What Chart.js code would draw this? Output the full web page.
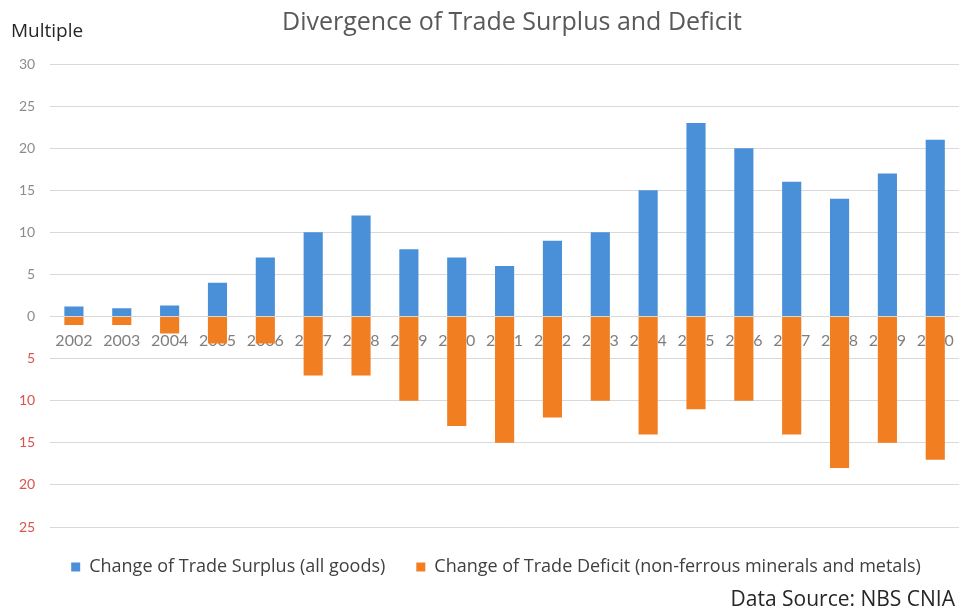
<!DOCTYPE html>
<html>
<head>
<meta charset="utf-8">
<script src="https://cdn.jsdelivr.net/npm/chart.js@4.4.1/dist/chart.umd.min.js"></script>
<style>
  html, body { margin: 0; padding: 0; background: #fff; }
  #wrap { width: 969px; height: 612px; }
</style>
</head>
<body>
<div id="wrap"><canvas id="myChart0"></canvas></div>
<script>
const years = ['2002', '2003', '2004', '2005', '2006', '2007', '2008', '2009', '2010', '2011',
               '2012', '2013', '2014', '2015', '2016', '2017', '2018', '2019', '2020'];
const surplus = [1.2, 1, 1.3, 4, 7, 10, 12, 8, 7, 6, 9, 10, 15, 23, 20, 16, 14, 17, 21];
const deficit = [-1, -1, -2, -3.2, -3.2, -7, -7, -10, -13, -15, -12, -10, -14, -11, -10, -14, -18, -15, -17];
const legendLabels = ['Change of Trade Surplus (all goods)', 'Change of Trade Deficit (non-ferrous minerals and metals)'];
const yTicks = [30, 25, 20, 15, 10, 5, 0, -5, -10, -15, -20, -25];

const FONT = '"Open Sans", sans-serif';

// title, axis caption and source note drawn straight onto the canvas
const textPlugin = {
    id: 'extraText',
    afterDraw(chart) {
        const c = chart.ctx;
        c.save();
        c.textBaseline = 'middle';
        c.fillStyle = '#595959';
        c.font = '25px ' + FONT;
        c.textAlign = 'center';
        c.fillText('Divergence of Trade Surplus and Deficit', 512, 23);
        c.fillStyle = '#262626';
        c.font = '19px ' + FONT;
        c.textAlign = 'left';
        c.fillText('Multiple', 11, 32);
        c.font = '21px ' + FONT;
        c.textAlign = 'right';
        c.fillText('Data Source: NBS CNIA', 955, 600);
        c.restore();
    }
};

const ctx = document.getElementById('myChart0').getContext('2d');
new Chart(ctx, {
    type: 'bar',
    data: {
        labels: years,
        datasets: [
            { label: legendLabels[0], data: surplus, backgroundColor: '#4a90d9' },
            { label: legendLabels[1], data: deficit, backgroundColor: '#f27e22' },
        ]
    },
    options: {
        responsive: true,
        maintainAspectRatio: false,
        animation: false,
        layout: { padding: { top: 64, left: 30, right: 7, bottom: 26 } },
        datasets: {
            bar: { categoryPercentage: 1, barPercentage: 0.4, borderWidth: 0 }
        },
        plugins: {
            title: { display: false },
            tooltip: { enabled: false },
            legend: {
                position: 'bottom',
                labels: {
                    boxWidth: 9,
                    boxHeight: 9,
                    padding: 31,
                    color: '#404040',
                    font: { family: FONT, size: 18 },
                }
            },
        },
        scales: {
            x: {
                stacked: true,
                position: { y: 0 },
                grid: { display: false, drawTicks: false },
                border: { display: false },
                ticks: {
                    color: '#7f7f7f',
                    padding: 15,
                    maxRotation: 0,
                    autoSkip: false,
                    font: { family: 'Lato, sans-serif', size: 16 },
                },
            },
            y: {
                stacked: true,
                min: -25,
                max: 30,
                afterBuildTicks(scale) {
                    scale.ticks = yTicks.map(v => ({ value: v }));
                },
                // narrow axis box; mirrored labels are pulled back out to the left
                afterFit(scale) { scale.width = 20; },
                ticks: {
                    mirror: true,
                    crossAlign: 'far',
                    padding: -31,
                    font: { family: 'Lato, sans-serif', size: 14 },
                    color: c => c.tick.value < 0 ? '#d9534f' : '#8c8c8c',
                    callback: v => Math.abs(v),
                },
                grid: { color: '#d9d9d9', drawTicks: false },
                border: { display: false },
            },
        },
    },
    plugins: [textPlugin],
});
</script>
</body>
</html>
